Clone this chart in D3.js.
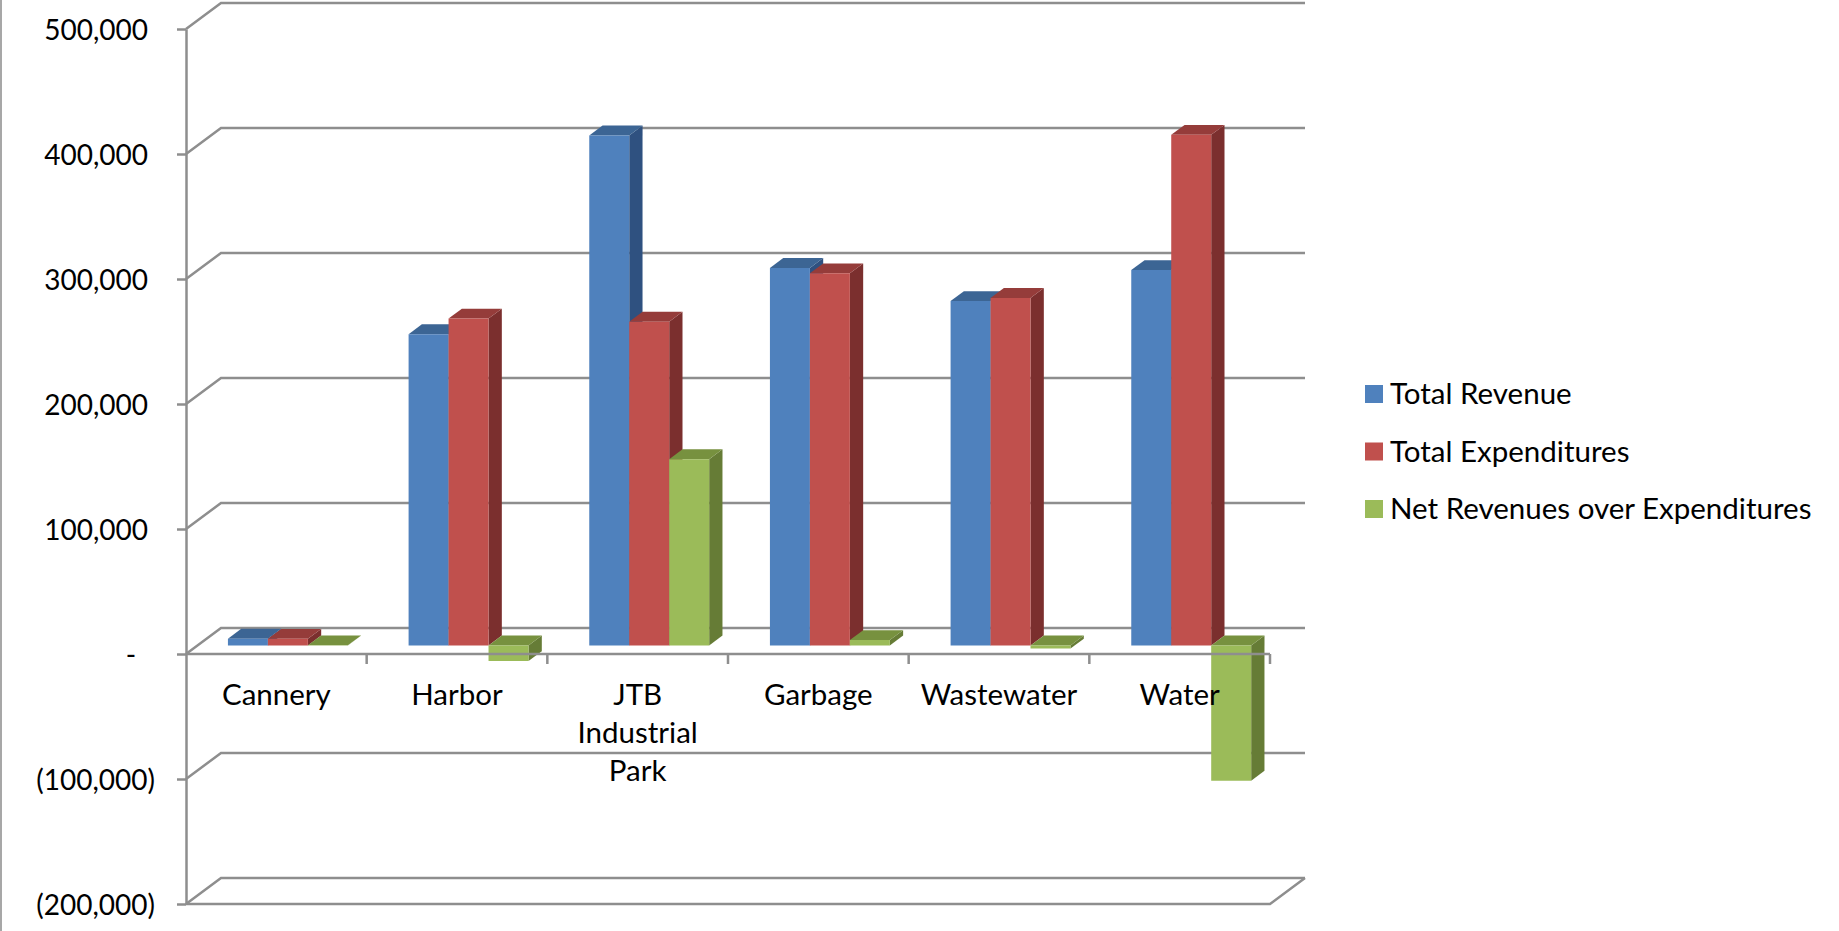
<!DOCTYPE html>
<html>
<head>
<meta charset="utf-8">
<script src="https://cdn.jsdelivr.net/npm/d3@7"></script>
<style>
    html, body { margin: 0; padding: 0; background: #fff; }
    svg { display: block; font-family: Lato, 'Open Sans', sans-serif; }
</style>
</head>
<body>
<svg id="chart" width="1839" height="931"></svg>
<script>
var categories = ['Cannery', 'Harbor', 'JTB Industrial Park', 'Garbage', 'Wastewater', 'Water'];
var seriesNames = ['Total Revenue', 'Total Expenditures', 'Net Revenues over Expenditures'];
var totalRevenue = [5400, 249000, 408000, 302000, 275500, 300300];
var totalExpenditures = [5300, 261500, 259000, 297700, 278000, 408500];
var netRevenues = [100, -12500, 149000, 4300, -2500, -108200];
var yTicks = [-200000, -100000, 0, 100000, 200000, 300000, 400000, 500000];

(function (d3) {
    'use strict';

    var PLOT_LEFT   = 186,
        PLOT_RIGHT  = 1270,
        PLOT_TOP    = 29,
        PLOT_BOTTOM = 904,
        DEPTH_X     = 35,
        DEPTH_Y     = 26,
        BAR_Z0      = 0.33,
        BAR_Z1      = 0.71,
        GRID_COLOR  = '#8e8e8e',
        GRID_WIDTH  = 2.5,
        FONT_SIZE   = 28,
        LABEL_SIZE  = 29.5,
        COLORS      = [
            {front: '#4f81bd', top: '#3c6594', side: '#2f5180'},
            {front: '#c0504d', top: '#953c3a', side: '#7b2f2e'},
            {front: '#9bbb59', top: '#77913f', side: '#667c36'}
        ];

    var values = [totalRevenue, totalExpenditures, netRevenues];
    var svg = d3.select('#chart');

    var x = d3.scaleBand()
        .domain(categories)
        .range([PLOT_LEFT, PLOT_RIGHT]);

    var xSeries = d3.scaleBand()
        .domain(seriesNames)
        .range([0, x.bandwidth()])
        .paddingOuter(0.76);

    var y = d3.scaleLinear()
        .domain([yTicks[0], yTicks[yTicks.length - 1]])
        .range([PLOT_BOTTOM, PLOT_TOP]);

    // oblique projection: plane x, value, depth (0 = front, 1 = back wall)
    function project(px, v, z) {
        return [px + z * DEPTH_X, y(v) - z * DEPTH_Y];
    }

    function poly(points) {
        return 'M' + points.map(function (p) { return p.join(','); }).join('L') + 'Z';
    }

    // left chart border
    svg.append('line')
        .attr('x1', 1).attr('x2', 1)
        .attr('y1', 0).attr('y2', 931)
        .attr('stroke', '#8a8a8a')
        .attr('stroke-width', 1.5);

    /**
     * side wall diagonals + back wall gridlines
     */
    var grid = svg.append('g')
        .attr('fill', 'none')
        .attr('stroke', GRID_COLOR)
        .attr('stroke-width', GRID_WIDTH);

    yTicks.forEach(function (t) {
        var a = project(PLOT_LEFT, t, 0),
            b = project(PLOT_LEFT, t, 1),
            c = project(PLOT_RIGHT, t, 1);
        grid.append('path')
            .attr('d', 'M' + a + 'L' + b + 'L' + c);
    });

    // floor front edge and right edge
    grid.append('path')
        .attr('d', 'M' + project(PLOT_LEFT, yTicks[0], 0) +
            'L' + project(PLOT_RIGHT, yTicks[0], 0) +
            'L' + project(PLOT_RIGHT, yTicks[0], 1));

    /**
     * bars, painted left to right so each front covers the previous side
     */
    var bars = svg.append('g');

    categories.forEach(function (cat, ci) {
        seriesNames.forEach(function (name, si) {
            var v = values[si][ci],
                x0 = x(cat) + xSeries(name),
                x1 = x0 + xSeries.bandwidth(),
                vTop = Math.max(v, 0),
                vBot = Math.min(v, 0),
                col = COLORS[si],
                g = bars.append('g');

            g.append('path')
                .attr('d', poly([project(x1, vTop, BAR_Z0), project(x1, vBot, BAR_Z0),
                    project(x1, vBot, BAR_Z1), project(x1, vTop, BAR_Z1)]))
                .attr('fill', col.side);

            g.append('path')
                .attr('d', poly([project(x0, vTop, BAR_Z0), project(x1, vTop, BAR_Z0),
                    project(x1, vTop, BAR_Z1), project(x0, vTop, BAR_Z1)]))
                .attr('fill', col.top);

            g.append('path')
                .attr('d', poly([project(x0, vTop, BAR_Z0), project(x1, vTop, BAR_Z0),
                    project(x1, vBot, BAR_Z0), project(x0, vBot, BAR_Z0)]))
                .attr('fill', col.front);
        });
    });

    /**
     * value axis (front left edge)
     */
    function fmt(v) {
        if (v === 0) return '-';
        return v < 0 ? '(' + d3.format(',')(-v) + ')' : d3.format(',')(v);
    }

    var yAxis = svg.append('g')
        .attr('transform', 'translate(' + PLOT_LEFT + ',0)')
        .call(d3.axisLeft(y)
            .tickValues(yTicks)
            .tickFormat(fmt)
            .tickSize(9)
            .tickSizeOuter(0)
            .tickPadding(29));

    yAxis.select('.domain')
        .attr('stroke', GRID_COLOR)
        .attr('stroke-width', GRID_WIDTH);
    yAxis.selectAll('.tick line')
        .attr('stroke', GRID_COLOR)
        .attr('stroke-width', GRID_WIDTH);
    yAxis.selectAll('.tick text')
        .attr('font-family', 'Lato, sans-serif')
        .attr('font-size', FONT_SIZE)
        .attr('fill', '#000')
        .attr('dy', '0.36em')
        .each(function (d) {
            var t = d3.select(this);
            if (d < 0) t.attr('x', -31);
            if (d === 0) t.attr('x', -55).attr('text-anchor', 'middle');
        });

    /**
     * category axis at zero, drawn over the bars
     */
    var y0 = y(0);
    var xAxis = svg.append('g');

    xAxis.append('line')
        .attr('x1', PLOT_LEFT).attr('x2', PLOT_RIGHT)
        .attr('y1', y0).attr('y2', y0)
        .attr('stroke', GRID_COLOR)
        .attr('stroke-width', GRID_WIDTH);

    xAxis.selectAll('line.cat-tick')
        .data(categories)
        .enter()
        .append('line')
        .attr('class', 'cat-tick')
        .attr('x1', function (d) { return x(d) + x.step(); })
        .attr('x2', function (d) { return x(d) + x.step(); })
        .attr('y1', y0)
        .attr('y2', y0 + 10)
        .attr('stroke', GRID_COLOR)
        .attr('stroke-width', GRID_WIDTH);

    var labels = xAxis.selectAll('text.cat-label')
        .data(categories)
        .enter()
        .append('text')
        .attr('class', 'cat-label')
        .attr('text-anchor', 'middle')
        .attr('font-size', LABEL_SIZE)
        .attr('fill', '#000');

    // wrap long names word by word, Excel style
    var wrapWidth = x.bandwidth() * 0.85;
    labels.each(function (d) {
        var text = d3.select(this),
            cx = x(d) + x.bandwidth() / 2,
            words = d.split(' '),
            lines = [],
            line = words[0];
        text.text(line);
        for (var i = 1; i < words.length; i++) {
            text.text(line + ' ' + words[i]);
            if (this.getComputedTextLength() > wrapWidth) {
                lines.push(line);
                line = words[i];
            } else {
                line = line + ' ' + words[i];
            }
        }
        lines.push(line);
        text.text(null);
        lines.forEach(function (l, li) {
            text.append('tspan')
                .attr('x', cx)
                .attr('y', y0 + 51 + li * 38)
                .text(l);
        });
    });

    /**
     * legend
     */
    var legend = svg.append('g')
        .attr('transform', 'translate(1365,394)');

    var rows = legend.selectAll('g')
        .data(seriesNames)
        .enter()
        .append('g')
        .attr('transform', function (d, i) { return 'translate(0,' + (i * 57.5) + ')'; });

    rows.append('rect')
        .attr('x', 0)
        .attr('y', -9)
        .attr('width', 18)
        .attr('height', 18)
        .attr('fill', function (d, i) { return COLORS[i].front; });

    rows.append('text')
        .attr('x', 25)
        .attr('y', 10)
        .attr('font-size', LABEL_SIZE)
        .attr('fill', '#000')
        .text(function (d) { return d; });

})(d3);
</script>
</body>
</html>
